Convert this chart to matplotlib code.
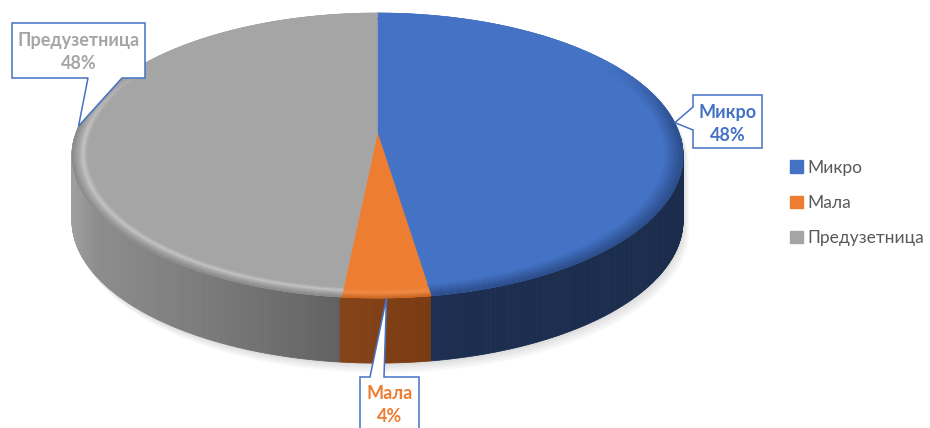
import numpy as np
import matplotlib
matplotlib.use('Agg')
import matplotlib.pyplot as plt
from matplotlib.patches import Polygon, Patch
from matplotlib.collections import PolyCollection
from matplotlib.colors import to_rgb

categories = ['Микро', 'Мала', 'Предузетница']
values = [47.6, 4.0, 48.4]
pct_labels = [f"{round(v)}%" for v in values]

top_colors = ['#4472C4', '#ED7D31', '#A5A5A5']

W, H = 930, 428
fig = plt.figure(figsize=(9.3, 4.28), dpi=100)
ax = fig.add_axes([0, 0, 1, 1])
ax.set_xlim(0, W)
ax.set_ylim(H, 0)
ax.axis('off')

XC, YC, A, B, K, DEPTH = 377.5, 133.0, 301.7, 139.0, 0.158, 65.0


def proj(theta_deg, r=1.0, dz=0.0):
    t = np.radians(theta_deg)
    u = r * np.sin(t)
    v = -r * np.cos(t)
    s = 1.0 / (1.0 - K * v)
    return XC + A * u * s, YC + B * v * s + dz


total = float(sum(values))
bounds = np.concatenate([[0.0], 360.0 * np.cumsum(values) / total])


def slice_of(theta):
    for i in range(len(values)):
        if bounds[i] <= theta < bounds[i + 1]:
            return i
    return len(values) - 1


def lerp_hex(stops_x, stops_c, x):
    cs = np.array([to_rgb(c) for c in stops_c])
    return np.array([np.interp(x, stops_x, cs[:, j]) for j in range(3)])

# ---- soft shadow ----
th_front = np.linspace(99, 261, 200)
th_back = np.linspace(261, 459, 200)
bx, by = proj(th_front, 1.0, DEPTH)
tx, ty = proj(th_back, 1.0, 0.0)
ox = np.concatenate([bx, tx])
oy = np.concatenate([by, ty])
for d in [12, 9, 6, 3]:
    ax.add_patch(Polygon(np.column_stack([ox + d * 0.5, oy + d * 0.8]),
                         closed=True, facecolor='black', edgecolor='none',
                         alpha=0.03, zorder=1))

# ---- walls ----
step = 0.5
thetas = np.arange(92, 268, step)
order = np.argsort(-np.cos(np.radians(thetas + step / 2)))
polys, cols = [], []
for idx in order:
    t0 = thetas[idx]
    t1 = t0 + step
    x0, y0 = proj(t0)
    x1, y1 = proj(t1)
    poly = [(x0, y0), (x1, y1), (x1, y1 + DEPTH), (x0, y0 + DEPTH)]
    si = slice_of(t0 + step / 2)
    xm = (x0 + x1) / 2
    if si == 0:
        c = lerp_hex([360, 450, 700], ['#223864', '#1C2E50', '#1B2C4C'], xm)
    elif si == 1:
        c = lerp_hex([343, 431], ['#854318', '#7A3B12'], xm)
    else:
        c = lerp_hex([75, 100, 200, 300, 343],
                     ['#9E9E9E', '#8C8C8C', '#7C7C7C', '#6A6A6A', '#606060'], xm)
    polys.append(poly)
    cols.append(c)
ax.add_collection(PolyCollection(polys, facecolors=cols, edgecolors=cols,
                                 linewidths=0.6, zorder=2))

# ---- top faces ----
for i in range(len(values)):
    th = np.linspace(bounds[i], bounds[i + 1], 200)
    px, py = proj(th, 1.0)
    cx, cy = proj(0.0, 0.0)
    pts = np.column_stack([np.concatenate([[cx], px]), np.concatenate([[cy], py])])
    ax.add_patch(Polygon(pts, closed=True, facecolor=top_colors[i],
                         edgecolor=top_colors[i], linewidth=0.4, zorder=3))

# ---- bevel rim (stronger toward the viewer) ----
bevel = [
    ([0.94, 1.0], ['#4472C4', '#2B4C88']),
    ([0.95, 0.975, 1.0], ['#ED7D31', '#F08C48', '#C8651F']),
    ([0.95, 0.966, 0.976, 1.0], ['#A5A5A5', '#C6C6C6', '#ADADAD', '#888888']),
]
nb = 12
bpolys, bcols = [], []
for i in range(len(values)):
    rs, cs = bevel[i]
    base = np.array(to_rgb(top_colors[i]))
    th = np.linspace(bounds[i], bounds[i + 1], max(4, int((bounds[i + 1] - bounds[i]) / 1.0)))
    edges = np.linspace(rs[0], 1.0, nb + 1)
    for k in range(len(th) - 1):
        ta, tb = th[k], th[k + 1]
        v = -np.cos(np.radians((ta + tb) / 2))
        w = np.clip((v + 0.55) / 0.5, 0.0, 1.0)
        for j in range(nb):
            ra, rb = edges[j], edges[j + 1]
            c = lerp_hex(rs, cs, (ra + rb) / 2)
            c = base + (c - base) * w
            xa0, ya0 = proj(ta, ra)
            xa1, ya1 = proj(tb, ra)
            xb1, yb1 = proj(tb, rb)
            xb0, yb0 = proj(ta, rb)
            bpolys.append([(xa0, ya0), (xa1, ya1), (xb1, yb1), (xb0, yb0)])
            bcols.append(np.clip(c, 0, 1))
ax.add_collection(PolyCollection(bpolys, facecolors=bcols, edgecolors=bcols,
                                 linewidths=0.3, zorder=4))

# ---- callout labels ----
edge_blue = '#4472C4'
mids = (bounds[:-1] + bounds[1:]) / 2
tips = [proj(m, 1.0) for m in mids]

boxes = {
    0: dict(box=(693, 95, 762, 148), side='left', base=(107, 130), text=(727.5, 122.5)),
    1: dict(box=(360, 377, 419, 445), side='top', base=(370, 384), text=(389.5, 403.5)),
    2: dict(box=(12, 23, 145, 78), side='bottom', base=(88, 122), text=(78.5, 50.5)),
}
for i, spec in boxes.items():
    x0, y0, x1, y1 = spec['box']
    tx_, ty_ = tips[i]
    b0, b1 = spec['base']
    if spec['side'] == 'left':
        pts = [(x0, y0), (x1, y0), (x1, y1), (x0, y1), (x0, b1), (tx_, ty_), (x0, b0)]
    elif spec['side'] == 'top':
        pts = [(x0, y0), (b0, y0), (tx_, ty_), (b1, y0), (x1, y0), (x1, y1), (x0, y1)]
    else:
        pts = [(x0, y0), (x1, y0), (x1, y1), (b1, y1), (tx_, ty_), (b0, y1), (x0, y1)]
    ax.add_patch(Polygon(pts, closed=True, facecolor='white', edgecolor=edge_blue,
                         linewidth=1.1, zorder=6, clip_on=False))
    cxl, cyl = spec['text']
    for txt, dy in [(categories[i], -11.5), (pct_labels[i], 11.5)]:
        ax.text(cxl, cyl + dy, txt, ha='center', va='center_baseline', fontsize=13,
                fontweight='bold', color=top_colors[i], family='Lato', zorder=7)

# ---- legend ----
handles = [Patch(facecolor=c, edgecolor=c) for c in top_colors]
fig.legend(handles, categories, loc='center left',
           bbox_to_anchor=(774 / W, 1 - 203 / H), frameon=False,
           handlelength=0.75, handleheight=0.75, handletextpad=0.25,
           labelspacing=1.1, prop={'family': 'Lato', 'size': 12.5},
           labelcolor='#595959')

fig.savefig('out.png', dpi=100)
